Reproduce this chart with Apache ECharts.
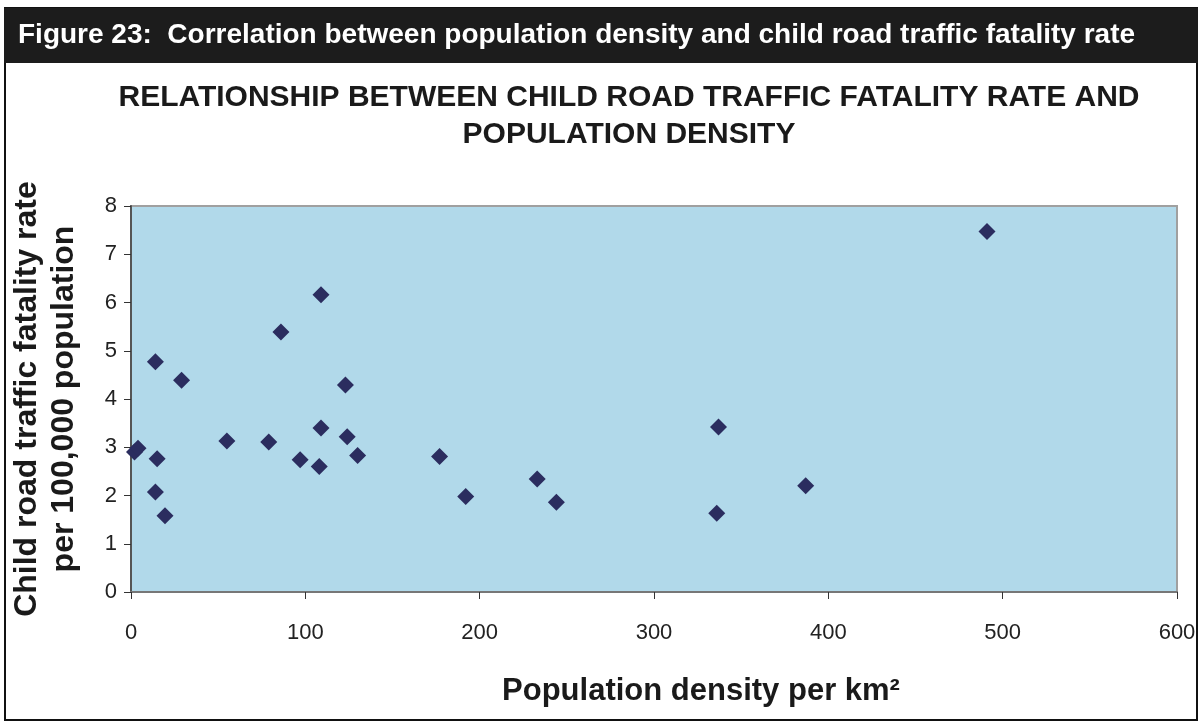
<!DOCTYPE html>
<html>
<head>
<meta charset="utf-8">
<script src="https://cdn.jsdelivr.net/npm/echarts@6/dist/echarts.min.js"></script>
<style>
html,body{margin:0;padding:0;background:#fff;}
#chart{width:1201px;height:725px;}
</style>
</head>
<body>
<div id="chart"></div>
<script>
// Population density per km² (x) and child road traffic fatality rate per 100,000 (y)
const density = [2, 4, 14, 29, 15, 14, 19.5, 55, 79, 86, 109, 123, 109, 124, 130, 97, 108, 177, 192, 233, 244, 337, 336, 387, 491];
const fatality = [2.9, 2.98, 4.77, 4.39, 2.76, 2.07, 1.58, 3.13, 3.11, 5.39, 6.16, 4.29, 3.40, 3.22, 2.83, 2.74, 2.60, 2.81, 1.98, 2.34, 1.86, 3.42, 1.63, 2.20, 7.47];
const xTicks = [0, 100, 200, 300, 400, 500, 600];
const yTicks = [0, 1, 2, 3, 4, 5, 6, 7, 8];

const figureCaption = 'Figure 23:  Correlation between population density and child road traffic fatality rate';
const chartTitle = 'RELATIONSHIP BETWEEN CHILD ROAD TRAFFIC FATALITY RATE AND\nPOPULATION DENSITY';
const xName = 'Population density per km²';
const yName = 'Child road traffic fatality rate\nper 100,000 population';

const points = density.map((d, i) => [d, fatality[i]]);

const chart = echarts.init(document.getElementById('chart'), null, {renderer: 'canvas'});
const FONT = 'Liberation Sans, Arial, sans-serif';
chart.setOption({
  animation: false,
  backgroundColor: '#ffffff',
  graphic: [
    {type: 'rect', shape: {x: 5, y: 8, width: 1192, height: 712}, style: {fill: 'none', stroke: '#111', lineWidth: 2}, z: -10},
    {type: 'rect', shape: {x: 4, y: 8, width: 1194, height: 55}, style: {fill: '#1c1c1c'}, z: -5},
    {type: 'text', left: 18, top: 21, style: {text: figureCaption, fill: '#ffffff', font: 'bold 28px ' + FONT}}
  ],
  title: {
    text: chartTitle,
    left: 624, top: 74, textAlign: 'center',
    textStyle: {fontFamily: FONT, fontWeight: 'bold', fontSize: 30, color: '#1a1a1a', lineHeight: 37, align: 'center'}
  },
  grid: {left: 131, right: 24, top: 206, bottom: 133, show: true, backgroundColor: '#b1d9ea', borderColor: '#a0a0a0', borderWidth: 2, outerBoundsMode: 'none', containLabel: false},
  xAxis: {
    type: 'value', min: 0, max: 600, interval: 100,
    name: xName, nameLocation: 'middle', nameGap: 84,
    nameTextStyle: {fontFamily: FONT, fontWeight: 'bold', fontSize: 31, color: '#1a1a1a', padding: [0, 0, 0, 94]},
    axisLine: {show: true, lineStyle: {color: '#777', width: 2}},
    axisTick: {show: true, inside: false, length: 7, lineStyle: {color: '#333', width: 1}},
    axisLabel: {fontFamily: FONT, fontSize: 22, color: '#222', margin: 30, formatter: v => xTicks.includes(v) ? String(v) : ''},
    splitLine: {show: false}
  },
  yAxis: {
    type: 'value', min: 0, max: 8, interval: 1,
    name: yName, nameLocation: 'middle', nameGap: 48, nameRotate: 90,
    nameTextStyle: {fontFamily: FONT, fontWeight: 'bold', fontSize: 32, color: '#1a1a1a', lineHeight: 37, align: 'center'},
    axisLine: {show: true, lineStyle: {color: '#555', width: 2}},
    axisTick: {show: true, inside: false, length: 7, lineStyle: {color: '#333', width: 1}},
    axisLabel: {fontFamily: FONT, fontSize: 22, color: '#222', margin: 14, formatter: v => yTicks.includes(v) ? String(v) : ''},
    splitLine: {show: false}
  },
  series: [{
    type: 'scatter',
    data: points,
    symbol: 'diamond',
    symbolSize: 17,
    itemStyle: {color: '#2b2d5f', opacity: 1}
  }]
});
</script>
</body>
</html>
